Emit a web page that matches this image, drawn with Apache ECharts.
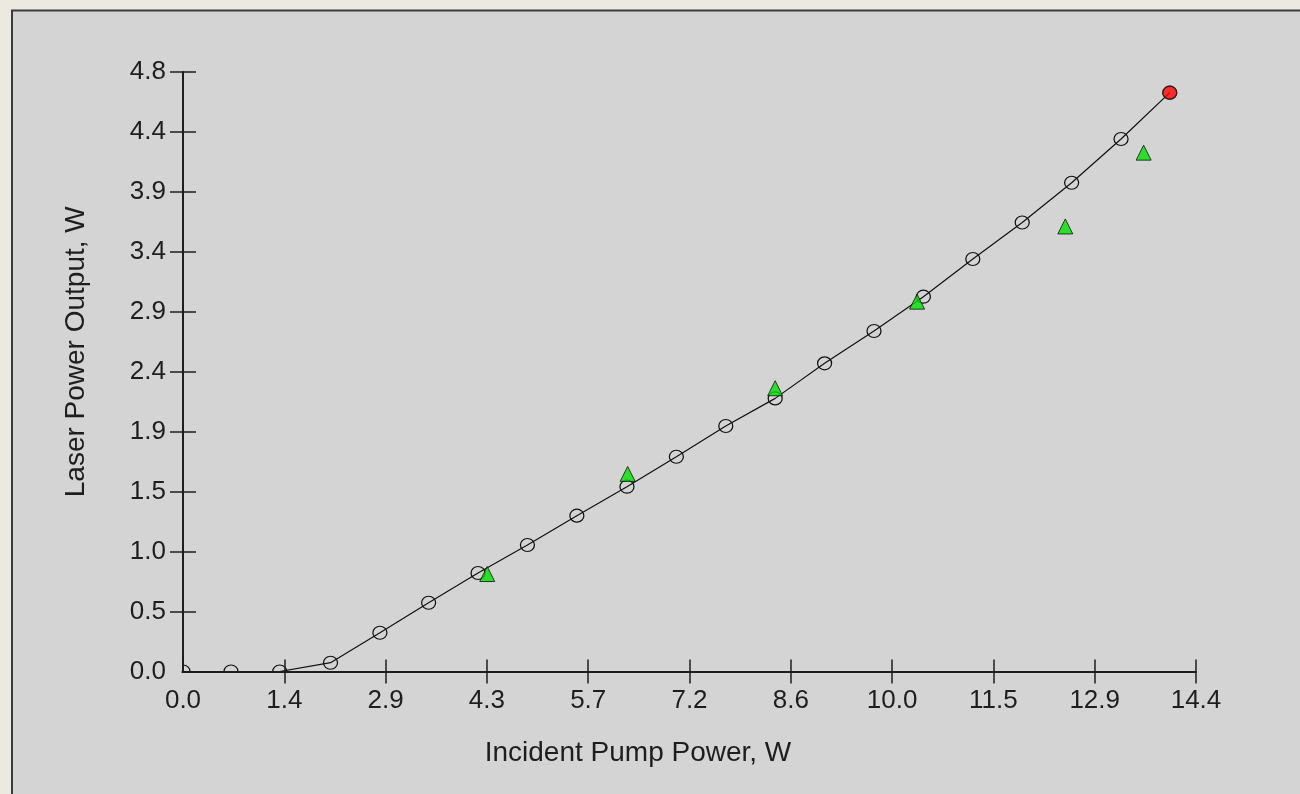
<!DOCTYPE html>
<html><head><meta charset="utf-8">
<script src="https://cdn.jsdelivr.net/npm/echarts@6/dist/echarts.min.js"></script>
<style>html,body{margin:0;padding:0;background:#ece9e0;overflow:hidden;}#c{width:1300px;height:794px;}</style>
</head><body><div id="c"></div>
<script>
// Axis ticks
const xMax = 14.352;
const xStep = 1.4352;
const yMax = 4.84;
const yStep = 0.484;
const xTickLabels = ['0.0','1.4','2.9','4.3','5.7','7.2','8.6','10.0','11.5','12.9','14.4'];
const yTickLabels = ['0.0','0.5','1.0','1.5','1.9','2.4','2.9','3.4','3.9','4.4','4.8'];

// Model curve (open circles joined by line)
const modelPump  = [0, 0.68, 1.37, 2.09, 2.79, 3.48, 4.18, 4.88, 5.58, 6.29, 6.99, 7.69, 8.39, 9.09, 9.79, 10.49, 11.19, 11.89, 12.59, 13.29, 13.98];
const modelLaser = [0, 0, 0, 0.071, 0.313, 0.555, 0.795, 1.021, 1.258, 1.492, 1.734, 1.982, 2.205, 2.488, 2.749, 3.026, 3.33, 3.625, 3.946, 4.299, 4.673];

// Measured points (green triangles)
const measPump  = [4.31, 6.30, 8.39, 10.40, 12.50, 13.61];
const measLaser = [0.787, 1.595, 2.287, 2.986, 3.593, 4.189];

// Current operating point (red)
const endPump  = [13.98];
const endLaser = [4.673];

const FONT = "'Liberation Sans', Arial, sans-serif";
const INK = '#1e1e1e';

const zip = (a, b) => a.map((v, i) => [v, b[i]]);

const chart = echarts.init(document.getElementById('c'), null, {renderer: 'canvas'});

const baseX = {
  type: 'value', min: 0, max: xMax, interval: xStep, position: 'bottom', z: 10,
  splitLine: {show: false}
};
const baseY = {
  type: 'value', min: 0, max: yMax, interval: yStep, position: 'left', z: 10,
  splitLine: {show: false}
};

chart.setOption({
  backgroundColor: '#ece9e0',
  animation: false,
  grid: {left: 183, right: 104, top: 72, bottom: 122.5, containLabel: false},
  graphic: [
    {type: 'rect', z: 0, shape: {x: 12, y: 10.5, width: 1400, height: 900},
     style: {fill: '#d4d4d4', stroke: '#3c3c3c', lineWidth: 2}},
    // hide symbol parts that fall outside the plot area
    {type: 'rect', z: 5, shape: {x: 14, y: 672.5, width: 1290, height: 130}, style: {fill: '#d4d4d4'}},
    {type: 'rect', z: 5, shape: {x: 14, y: 12, width: 168, height: 660}, style: {fill: '#d4d4d4'}},
    // no ticks at the origin
    {type: 'rect', z: 11, shape: {x: 166, y: 669.5, width: 15.5, height: 4}, style: {fill: '#d4d4d4'}},
    {type: 'rect', z: 11, shape: {x: 181, y: 673, width: 4, height: 13}, style: {fill: '#d4d4d4'}}
  ],
  xAxis: [
    Object.assign({}, baseX, {
      axisLine: {show: true, lineStyle: {color: INK, width: 2}},
      axisTick: {show: true, inside: false, length: 12, lineStyle: {color: INK, width: 1.5}},
      axisLabel: {show: true, margin: 16, fontSize: 26, color: INK, fontFamily: FONT,
        formatter: v => xTickLabels[Math.round(v / xStep)]},
      name: 'Incident Pump Power, W', nameLocation: 'middle', nameGap: 68,
      nameTextStyle: {fontSize: 28, color: INK, fontFamily: FONT, padding: [0, 103, 0, 0]}
    }),
    Object.assign({}, baseX, {
      axisLine: {show: false},
      axisTick: {show: true, inside: true, length: 12, lineStyle: {color: INK, width: 1.5}},
      axisLabel: {show: false}
    })
  ],
  yAxis: [
    Object.assign({}, baseY, {
      axisLine: {show: true, lineStyle: {color: INK, width: 2}},
      axisTick: {show: true, inside: false, length: 13, lineStyle: {color: INK, width: 1.5}},
      axisLabel: {show: true, margin: 17, fontSize: 26, color: INK, fontFamily: FONT,
        formatter: v => yTickLabels[Math.round(v / yStep)]},
      name: 'Laser Power Output, W', nameLocation: 'middle', nameGap: 93, nameRotate: 90,
      nameTextStyle: {fontSize: 28, color: INK, fontFamily: FONT, padding: [0, 0, 0, 40]}
    }),
    Object.assign({}, baseY, {
      axisLine: {show: false},
      axisTick: {show: true, inside: true, length: 13, lineStyle: {color: INK, width: 1.5}},
      axisLabel: {show: false}
    })
  ],
  series: [
    {
      name: 'Model', type: 'line', xAxisIndex: 0, yAxisIndex: 0, z: 2,
      data: zip(modelPump, modelLaser),
      symbol: 'circle', symbolSize: [14, 13], showAllSymbol: true,
      lineStyle: {color: '#111', width: 1.2},
      itemStyle: {color: 'rgba(0,0,0,0)', borderColor: '#111', borderWidth: 1.2},
      emphasis: {disabled: true}
    },
    {
      name: 'Measured', type: 'scatter', xAxisIndex: 0, yAxisIndex: 0, z: 3,
      data: zip(measPump, measLaser),
      symbol: 'triangle', symbolSize: [15, 15],
      itemStyle: {color: '#00e000', borderColor: '#111', borderWidth: 1},
      emphasis: {disabled: true}
    },
    {
      name: 'Operating point', type: 'scatter', xAxisIndex: 0, yAxisIndex: 0, z: 4,
      data: zip(endPump, endLaser),
      symbol: 'circle', symbolSize: [14, 13],
      itemStyle: {color: '#ff0000', borderColor: '#222', borderWidth: 1.2},
      emphasis: {disabled: true}
    }
  ]
});
</script></body></html>
